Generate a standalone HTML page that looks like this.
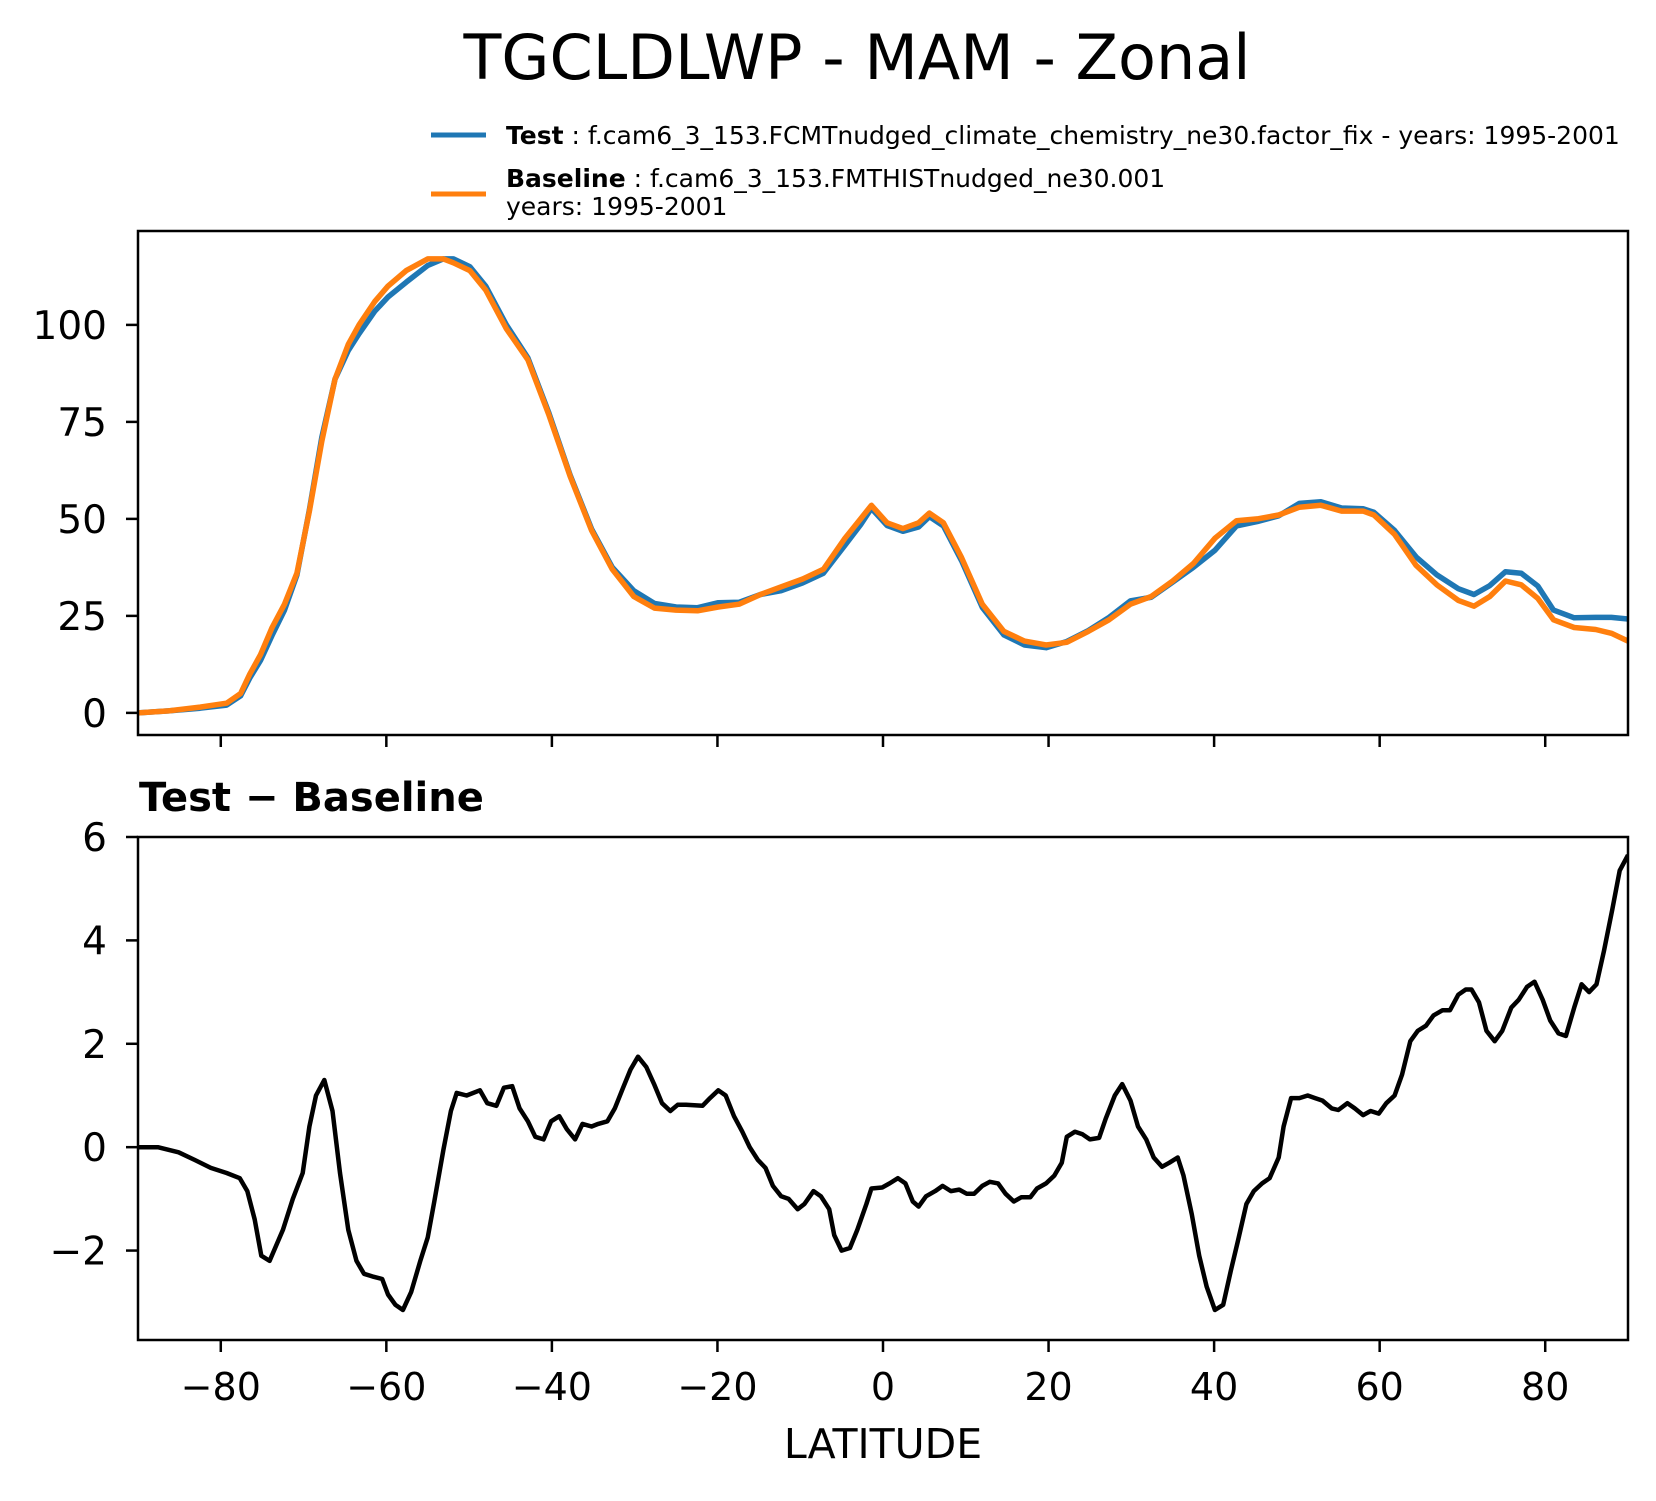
<!DOCTYPE html>
<html><head><meta charset="utf-8"><style>
body{margin:0;background:#fff}
svg text{font-family:"DejaVu Sans","Liberation Sans",sans-serif}
</style></head><body>
<svg id="fig" width="1656" height="1496" xmlns="http://www.w3.org/2000/svg">
<rect width="1656" height="1496" fill="#fff"/>
<text x="857" y="79" font-size="62" text-anchor="middle">TGCLDLWP - MAM - Zonal</text>
<g>
<line x1="431" y1="135" x2="486" y2="135" stroke="#1f77b4" stroke-width="5"/>
<text x="506" y="144" font-size="25"><tspan font-weight="bold">Test</tspan> : f.cam6_3_153.FCMTnudged_climate_chemistry_ne30.factor_fix - years: 1995-2001</text>
<line x1="431" y1="194" x2="486" y2="194" stroke="#ff7f0e" stroke-width="5"/>
<text x="506" y="187" font-size="25"><tspan font-weight="bold">Baseline</tspan> : f.cam6_3_153.FMTHISTnudged_ne30.001</text>
<text x="506" y="215" font-size="25">years: 1995-2001</text>
</g>
<text x="139" y="811" font-size="40" font-weight="bold">Test − Baseline</text>
<g id="top"></g>
<g id="bot"></g>
<text x="883" y="1458" font-size="41" text-anchor="middle">LATITUDE</text>
</svg>
<script>
const topLat=[-90,-86.3,-82.5,-79.3,-77.6,-76.5,-75.2,-73.8,-72.3,-70.8,-69.3,-67.8,-66.2,-64.6,-63.3,-61.4,-59.8,-57.6,-55.0,-53.1,-51.9,-49.9,-48.0,-45.5,-42.9,-40.4,-37.8,-35.2,-32.7,-30.1,-27.6,-25.0,-22.4,-19.9,-17.4,-14.8,-12.3,-9.7,-7.2,-4.6,-2.7,-1.4,0.5,2.4,4.3,5.6,7.3,9.5,12.0,14.6,17.1,19.7,22.2,24.8,27.3,29.9,32.4,35.0,37.5,40.1,42.7,45.2,47.8,50.3,52.9,55.4,58.0,59.3,61.8,64.4,66.9,69.5,71.4,73.3,75.2,77.1,79.1,81.0,83.5,86.1,88.0,90];
const baseline=[0,0.5,1.5,2.5,5,10,15,22,28,36,52,70,86,95,100,106,110,114,117,117,116,114,109,99,91,77,61,47,37,30,27,26.5,26.3,27.3,28,30.5,32.5,34.5,37,45,50,53.5,49,47.5,49,51.5,49,40,28,21,18.5,17.5,18.2,21,24,28,30,34,38.5,45,49.5,50,51,53,53.5,52,52,51,46,38,33,29,27.5,30,34,33,29.5,24,22,21.5,20.5,18.5];
const test=[0,0.5,1.2,2,4.4,9,13.5,20,26.5,35.5,52.4,71,86,93.4,97.7,103.5,107.2,111,115.3,117,117,115,110,100,91.5,77.5,61.3,47.4,37.5,31.5,28.2,27.3,27.1,28.4,28.5,30.5,31.5,33.5,36,43.2,48.5,52.7,48.3,46.8,47.9,50.6,48.2,39.2,27.2,20.1,17.5,16.8,18.4,21.2,24.6,28.9,29.8,33.7,37.5,41.9,48.2,49.3,50.8,54,54.4,52.8,52.6,51.7,47,40.2,35.6,32,30.5,32.8,36.4,36,32.7,26.5,24.5,24.6,24.6,24.2];
const diffLat=[-90,-87.6,-85.1,-83.1,-81.2,-79.3,-77.7,-76.8,-75.9,-75.1,-74.1,-72.5,-71.3,-70.1,-69.3,-68.5,-67.5,-66.5,-65.6,-64.6,-63.6,-62.7,-61.7,-60.5,-59.8,-58.9,-58.0,-57.0,-55.9,-55.0,-54.2,-53.1,-52.2,-51.5,-50.3,-48.7,-47.8,-46.7,-45.8,-44.8,-43.9,-42.9,-42.0,-41.0,-40.1,-39.1,-38.2,-37.2,-36.3,-35.2,-34.4,-33.3,-32.4,-31.4,-30.5,-29.6,-28.6,-27.6,-26.7,-25.7,-24.8,-23.8,-21.8,-20.9,-19.9,-19.0,-18.0,-17.0,-16.1,-15.1,-14.2,-13.3,-12.3,-11.4,-10.3,-9.5,-8.4,-7.5,-6.5,-5.9,-5.0,-4.0,-3.1,-2.0,-1.4,-0.1,0.8,1.8,2.7,3.6,4.3,5.2,6.3,7.2,8.2,9.2,10.1,11.0,12.0,12.9,13.9,14.8,15.8,16.7,17.8,18.6,19.7,20.7,21.6,22.2,23.2,24.1,25.0,26.1,26.9,28.0,28.9,29.9,30.8,31.8,32.7,33.7,34.6,35.6,36.3,37.3,38.2,39.1,40.1,41.1,42.0,42.9,43.9,44.8,45.8,46.7,47.8,48.4,49.3,50.3,51.3,52.2,53.1,54.2,55.0,56.1,57.0,58.0,58.9,59.9,60.8,61.8,62.7,63.7,64.6,65.6,66.5,67.6,68.5,69.5,70.4,71.1,72.0,72.9,73.9,74.8,75.9,76.8,77.8,78.7,79.7,80.6,81.6,82.5,83.5,84.4,85.3,86.2,87.1,88.1,89.0,90];
const diff=[0,0,-0.1,-0.25,-0.4,-0.5,-0.6,-0.85,-1.4,-2.1,-2.2,-1.6,-1.0,-0.5,0.4,1.0,1.3,0.7,-0.5,-1.6,-2.2,-2.45,-2.5,-2.55,-2.85,-3.05,-3.15,-2.8,-2.2,-1.75,-1.05,-0.05,0.7,1.05,1.0,1.1,0.85,0.8,1.15,1.18,0.75,0.5,0.2,0.15,0.5,0.6,0.35,0.15,0.45,0.4,0.45,0.5,0.75,1.15,1.5,1.75,1.55,1.2,0.85,0.7,0.82,0.82,0.8,0.95,1.1,1.0,0.6,0.3,0.0,-0.25,-0.4,-0.75,-0.95,-1.0,-1.2,-1.1,-0.85,-0.95,-1.2,-1.7,-2.0,-1.95,-1.6,-1.1,-0.8,-0.78,-0.7,-0.6,-0.7,-1.05,-1.15,-0.95,-0.85,-0.75,-0.85,-0.82,-0.9,-0.9,-0.75,-0.67,-0.7,-0.9,-1.05,-0.97,-0.97,-0.8,-0.7,-0.55,-0.3,0.2,0.3,0.25,0.15,0.18,0.55,1.0,1.22,0.9,0.4,0.15,-0.2,-0.38,-0.3,-0.2,-0.55,-1.3,-2.1,-2.7,-3.15,-3.05,-2.4,-1.8,-1.1,-0.85,-0.7,-0.6,-0.2,0.4,0.95,0.95,1.0,0.95,0.9,0.75,0.72,0.85,0.75,0.62,0.7,0.65,0.85,1.0,1.4,2.05,2.25,2.35,2.55,2.65,2.65,2.95,3.05,3.05,2.8,2.25,2.05,2.25,2.7,2.85,3.1,3.2,2.85,2.45,2.2,2.15,2.7,3.15,3.0,3.15,3.8,4.6,5.35,5.65];
const xTicks=[-80,-60,-40,-20,0,20,40,60,80];
const xTickLabels=["−80","−60","−40","−20","0","20","40","60","80"];
const topYTicks=[0,25,50,75,100];
const botYTicks=[-2,0,2,4,6];
const botYTickLabels=["−2","0","2","4","6"];

const NS='http://www.w3.org/2000/svg';
const L=138,R=1628;
const X=v=>L+(v+90)/180*(R-L);
const topY0=231,topY1=735,topMax=124.2,topMin=-5.7;
const Yt=v=>topY0+(topMax-v)/(topMax-topMin)*(topY1-topY0);
const botY0=837,botY1=1340,botMax=6,botMin=-3.73;
const Yb=v=>botY0+(botMax-v)/(botMax-botMin)*(botY1-botY0);
function mk(tag,attrs,parent){const e=document.createElementNS(NS,tag);for(const k in attrs)e.setAttribute(k,attrs[k]);parent.appendChild(e);return e;}
function panel(g,y0,y1,Y,yt,ytl,showX){
  for(let i=0;i<yt.length;i++){const y=Y(yt[i]);
    const t=mk('line',{x1:L-12,x2:L,y1:y,y2:y,stroke:'#000','stroke-width':2.5},g);
    
    
    const tx=mk('text',{x:L-31,y:y+14,'font-size':39,'text-anchor':'end'},g);tx.textContent=ytl[i];
    
    
  }
  for(let i=0;i<xTicks.length;i++){const x=X(xTicks[i]);
    const t=mk('line',{x1:x,x2:x,y1:y1,y2:y1+12,stroke:'#000','stroke-width':2.5},g);
    
    
    if(showX){const tx=mk('text',{x:x,y:1400,'font-size':38,'text-anchor':'middle'},g);tx.textContent=xTickLabels[i];
      
      }
  }
}
function line(g,lats,vals,Y,color,w,name){
  const d=lats.map((la,i)=>(i?'L':'M')+X(la).toFixed(1)+' '+Y(vals[i]).toFixed(1)).join(' ');
  const p=mk('path',{d:d,fill:'none',stroke:color,'stroke-width':w,'stroke-linejoin':'round'},g);
  
  
}
const gt=document.getElementById('top'),gb=document.getElementById('bot');
const cpT=mk('clipPath',{id:'ct'},gt);mk('rect',{x:L,y:topY0,width:R-L,height:topY1-topY0},cpT);
const cpB=mk('clipPath',{id:'cb'},gb);mk('rect',{x:L,y:botY0,width:R-L,height:botY1-botY0},cpB);
panel(gt,topY0,topY1,Yt,topYTicks,topYTicks.map(String),false);
panel(gb,botY0,botY1,Yb,botYTicks,botYTickLabels,true);
const ct=mk('g',{'clip-path':'url(#ct)'},gt);
line(ct,topLat,test,Yt,'#1f77b4',5.5,'test-line');
line(ct,topLat,baseline,Yt,'#ff7f0e',5.5,'baseline-line');
const cb=mk('g',{'clip-path':'url(#cb)'},gb);
line(cb,diffLat,diff,Yb,'#000',4.5,'difference-line');
const f1=mk('rect',{x:L,y:topY0,width:R-L,height:topY1-topY0,fill:'none',stroke:'#000','stroke-width':2.5},gt);


const f2=mk('rect',{x:L,y:botY0,width:R-L,height:botY1-botY0,fill:'none',stroke:'#000','stroke-width':2.5},gb);


</script>
</body></html>
